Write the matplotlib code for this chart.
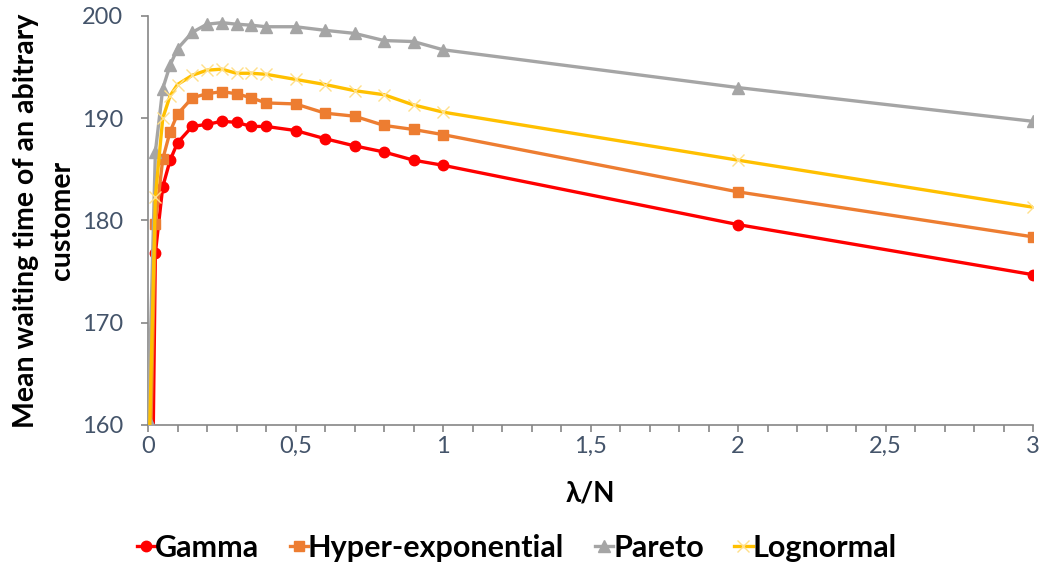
import matplotlib
matplotlib.use("Agg")
import matplotlib.pyplot as plt
from matplotlib.ticker import MultipleLocator, FuncFormatter

x = [0.001, 0.025, 0.05, 0.075, 0.1, 0.15, 0.2, 0.25, 0.3, 0.35, 0.4, 0.5,
     0.6, 0.7, 0.8, 0.9, 1.0, 2.0, 3.0]
gamma = [119.0, 176.8, 183.3, 185.9, 187.6, 189.2, 189.4, 189.7, 189.6, 189.2,
         189.2, 188.8, 188.0, 187.3, 186.7, 185.9, 185.4, 179.6, 174.7]
hyper = [148.2, 179.7, 186.0, 188.7, 190.4, 192.0, 192.4, 192.6, 192.4, 192.0,
         191.5, 191.4, 190.5, 190.2, 189.3, 188.9, 188.4, 182.8, 178.4]
pareto = [160.6, 186.7, 192.9, 195.2, 196.8, 198.4, 199.2, 199.35, 199.2, 199.1,
          198.95, 198.95, 198.6, 198.3, 197.6, 197.5, 196.7, 193.0, 189.7]
lognormal = [154.1, 182.3, 190.0, 192.2, 193.3, 194.2, 194.7, 194.8, 194.4, 194.4,
             194.3, 193.8, 193.3, 192.7, 192.3, 191.3, 190.6, 185.9, 181.3]
names = ["Gamma", "Hyper-exponential", "Pareto", "Lognormal"]

plt.rcParams['font.family'] = ['Lato', 'DejaVu Sans']

fig = plt.figure(figsize=(10.48, 5.67), dpi=100)
ax = fig.add_axes([148/1048, 1-425/567, (1033-148)/1048, (425-16)/567])

lw = 2.4
ax.plot(x, gamma, color='#FF0000', lw=lw, marker='o', ms=7.5, mec='#FF0000',
        label=names[0], zorder=3)
ax.plot(x, hyper, color='#ED7D31', lw=lw, marker='s', ms=7, mec='#ED7D31',
        label=names[1], zorder=3)
ax.plot(x, pareto, color='#A5A5A5', lw=lw, marker='^', ms=8, mec='#A5A5A5',
        label=names[2], zorder=3)
ax.plot(x, lognormal, color='#FFC000', lw=lw, marker='x', ms=8, mew=1.0,
        mec='#FFE08A', label=names[3], zorder=3)

ax.set_xlim(0, 3)
ax.set_ylim(160, 200)
ax.xaxis.set_major_locator(MultipleLocator(0.5))
ax.xaxis.set_minor_locator(MultipleLocator(0.1))
ax.yaxis.set_major_locator(MultipleLocator(10))

def fmt(v, pos):
    return ('%g' % v).replace('.', ',')
ax.xaxis.set_major_formatter(FuncFormatter(fmt))

for sp in ['top', 'right']:
    ax.spines[sp].set_visible(False)
for sp in ['left', 'bottom']:
    ax.spines[sp].set_color('#868686')
    ax.spines[sp].set_linewidth(1.2)

ax.tick_params(axis='both', which='major', direction='out', length=5,
               color='#868686', width=1.2, labelsize=17, labelcolor='#44546A')
ax.tick_params(axis='x', which='minor', direction='out', length=5,
               color='#868686', width=1.2)
ax.tick_params(axis='x', which='major', pad=3)
ax.tick_params(axis='y', which='major', pad=13)

ax.set_xlabel('λ/N', fontsize=20, fontweight='bold', labelpad=17)
ax.set_ylabel('Mean waiting time of an abitrary\ncustomer', fontsize=20.5,
              fontweight='bold', labelpad=5, linespacing=1.45)

leg = fig.legend(loc='center', bbox_to_anchor=(0.493, 1-548/567), ncol=4,
                 frameon=False, fontsize=22, handlelength=0.6,
                 handletextpad=0.0, columnspacing=1.0, borderpad=0)
for t in leg.get_texts():
    t.set_fontweight('bold')

fig.savefig('out.png', dpi=100)
